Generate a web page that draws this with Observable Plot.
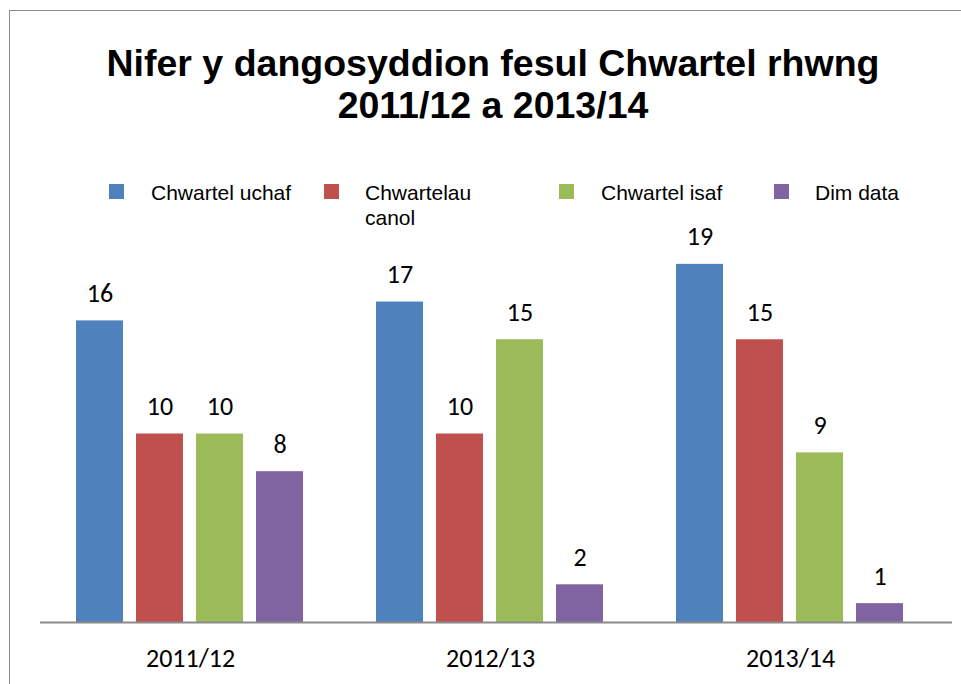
<!DOCTYPE html>
<html>
<head>
<meta charset="utf-8">
<script src="https://cdn.jsdelivr.net/npm/d3@7"></script>
<script src="https://cdn.jsdelivr.net/npm/@observablehq/plot@0.6"></script>
<style>
  html, body { margin: 0; padding: 0; background: #fff; overflow: hidden; }
  #wrap { position: relative; width: 961px; height: 684px; overflow: hidden; }
  #frame { position: absolute; left: 9px; top: 10px; width: 1000px; height: 700px;
           border-left: 1.5px solid #8a8a8a; border-top: 1.5px solid #8a8a8a; box-sizing: border-box; }
  #title { position: absolute; left: 0; width: 986px; top: 42px; text-align: center;
           font-family: "Liberation Sans", Arial, sans-serif; font-weight: bold; font-size: 37.5px;
           line-height: 42px; color: #000; }
  .lg-sq { position: absolute; top: 184px; width: 15px; height: 15px; }
  .lg-tx { position: absolute; top: 179.5px; font-family: "Liberation Sans", Arial, sans-serif;
           font-size: 21px; line-height: 25px; color: #000; white-space: nowrap; }
  #chart { position: absolute; left: 0; top: 0; }
</style>
</head>
<body>
<div id="wrap">
  <div id="frame"></div>
  <div id="chart"></div>
  <div id="title">Nifer y dangosyddion fesul Chwartel rhwng<br>2011/12 a 2013/14</div>
  <div id="legend"></div>
</div>
<script>
const years = ["2011/12", "2012/13", "2013/14"];
const series = ["Chwartel uchaf", "Chwartelau canol", "Chwartel isaf", "Dim data"];
const legendLabels = ["Chwartel uchaf", "Chwartelau<br>canol", "Chwartel isaf", "Dim data"];
const colors = ["#4F81BD", "#C0504D", "#9BBB59", "#8064A2"];
const uchaf = [16, 17, 19];
const canol = [10, 10, 15];
const isaf = [10, 15, 9];
const dimData = [8, 2, 1];
const seriesValues = [uchaf, canol, isaf, dimData];

const data = [];
years.forEach((yr, i) => {
  series.forEach((s, j) => data.push({year: yr, series: s, value: seriesValues[j][i]}));
});

const labelFont = "Carlito, Calibri, 'Liberation Sans', Arial, sans-serif";

const chart = Plot.plot({
  width: 961,
  height: 684,
  marginTop: 245,
  marginBottom: 62,
  marginLeft: 39,
  marginRight: 21,
  style: {background: "transparent", color: "#000"},
  fx: {domain: years, padding: 0, label: null, axis: null},
  x: {domain: series, paddingInner: 0.216, paddingOuter: 0.608, axis: null},
  y: {domain: [0, 20], axis: null},
  color: {domain: series, range: colors},
  marks: [
    Plot.barY(data, {fx: "year", x: "series", y: "value", fill: "series"}),
    Plot.text(data, {fx: "year", x: "series", y: "value", text: d => String(d.value),
      dy: -19, lineAnchor: "bottom", fontSize: 26, fontFamily: labelFont, fill: "#000"}),
    Plot.ruleY(years.slice(0, 2), {fx: d => d, y: () => 0, stroke: "#8a8a8a", strokeWidth: 2}),
    Plot.ruleY(years.slice(2), {fx: d => d, y: () => 0, stroke: "#8a8a8a", strokeWidth: 2, insetRight: -12}),
    Plot.axisFx({anchor: "bottom", tickSize: 0, tickPadding: 26.5, fontSize: 26, fontFamily: labelFont, label: null})
  ]
});
document.getElementById("chart").appendChild(chart);

const legendSq = [109, 324, 559, 774];
const legendTx = [151, 365, 601, 815];
const lg = document.getElementById("legend");
series.forEach((s, i) => {
  const sq = document.createElement("div");
  sq.className = "lg-sq";
  sq.style.left = legendSq[i] + "px";
  sq.style.background = colors[i];
  lg.appendChild(sq);
  const tx = document.createElement("div");
  tx.className = "lg-tx";
  tx.style.left = legendTx[i] + "px";
  tx.innerHTML = legendLabels[i];
  lg.appendChild(tx);
});
</script>
</body>
</html>
